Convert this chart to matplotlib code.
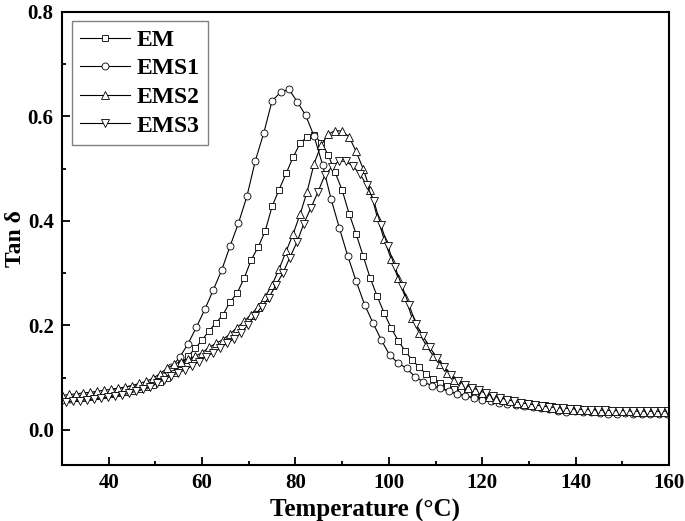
import matplotlib
matplotlib.use("Agg")
import matplotlib.pyplot as plt
from matplotlib.ticker import MultipleLocator, FormatStrFormatter

# temperature (°C) and tan delta for each sample
temp_em = [30.0, 31.5, 33.0, 34.5, 36.0, 37.5, 39.0, 40.5, 42.0, 43.5, 45.0, 46.5,
           48.0, 49.5, 51.0, 52.5, 54.0, 55.5, 57.0, 58.5, 60.0, 61.5, 63.0, 64.5,
           66.0, 67.5, 69.0, 70.5, 72.0, 73.5, 75.0, 76.5, 78.0, 79.5, 81.0, 82.5,
           84.0, 85.5, 87.0, 88.5, 90.0, 91.5, 93.0, 94.5, 96.0, 97.5, 99.0, 100.5,
           102.0, 103.5, 105.0, 106.5, 108.0, 109.5, 111.0, 112.5, 114.0, 115.5,
           117.0, 118.5, 120.0, 121.5, 123.0, 124.5, 126.0, 127.5, 129.0, 130.5,
           132.0, 133.5, 135.0, 136.5, 138.0, 139.5, 141.0, 142.5, 144.0, 145.5,
           147.0, 148.5, 150.0, 151.5, 153.0, 154.5, 156.0, 157.5, 159.0]
tan_em = [0.058, 0.060, 0.061, 0.062, 0.064, 0.065, 0.067, 0.069, 0.071, 0.073,
          0.075, 0.078, 0.082, 0.087, 0.092, 0.100, 0.110, 0.127, 0.141, 0.156,
          0.172, 0.190, 0.205, 0.221, 0.245, 0.262, 0.290, 0.325, 0.350, 0.380,
          0.428, 0.460, 0.491, 0.522, 0.549, 0.561, 0.564, 0.550, 0.527, 0.493,
          0.459, 0.414, 0.375, 0.333, 0.291, 0.256, 0.224, 0.195, 0.171, 0.151,
          0.134, 0.120, 0.107, 0.098, 0.090, 0.084, 0.078, 0.074, 0.070, 0.066,
          0.063, 0.061, 0.059, 0.057, 0.055, 0.053, 0.051, 0.050, 0.048, 0.047,
          0.045, 0.044, 0.043, 0.042, 0.040, 0.039, 0.039, 0.038, 0.037, 0.037,
          0.036, 0.036, 0.035, 0.035, 0.035, 0.034, 0.034]

temp_ems1 = [30.0, 31.8, 33.6, 35.4, 37.2, 39.0, 40.8, 42.6, 44.4, 46.2, 48.0, 49.8,
             51.6, 53.4, 55.2, 57.0, 58.8, 60.6, 62.4, 64.2, 66.0, 67.8, 69.6, 71.4,
             73.2, 75.0, 76.8, 78.6, 80.4, 82.2, 84.0, 85.8, 87.6, 89.4, 91.2, 93.0,
             94.8, 96.6, 98.4, 100.2, 102.0, 103.8, 105.6, 107.4, 109.2, 111.0,
             112.8, 114.6, 116.4, 118.2, 120.0, 121.8, 123.6, 125.4, 127.2, 129.0,
             130.8, 132.6, 134.4, 136.2, 138.0, 139.8, 141.6, 143.4, 145.2, 147.0,
             148.8, 150.6, 152.4, 154.2, 156.0, 157.8, 159.6]
tan_ems1 = [0.057, 0.059, 0.061, 0.063, 0.066, 0.069, 0.072, 0.075, 0.078, 0.082,
            0.087, 0.093, 0.104, 0.120, 0.139, 0.165, 0.197, 0.231, 0.268, 0.306,
            0.352, 0.396, 0.447, 0.515, 0.568, 0.630, 0.646, 0.652, 0.628, 0.602,
            0.562, 0.508, 0.443, 0.387, 0.333, 0.285, 0.240, 0.205, 0.172, 0.143,
            0.128, 0.118, 0.102, 0.092, 0.085, 0.080, 0.074, 0.069, 0.065, 0.061,
            0.058, 0.055, 0.052, 0.050, 0.048, 0.046, 0.044, 0.042, 0.040, 0.036,
            0.035, 0.037, 0.035, 0.034, 0.032, 0.030, 0.031, 0.032, 0.031, 0.031,
            0.031, 0.030, 0.030]

temp_ems2 = list(temp_em)
tan_ems2 = [0.066, 0.068, 0.069, 0.071, 0.072, 0.074, 0.076, 0.078, 0.080, 0.082,
            0.085, 0.089, 0.093, 0.099, 0.108, 0.118, 0.126, 0.131, 0.136, 0.141,
            0.148, 0.158, 0.166, 0.173, 0.184, 0.196, 0.208, 0.221, 0.236, 0.255,
            0.278, 0.308, 0.342, 0.375, 0.413, 0.456, 0.510, 0.545, 0.566, 0.573,
            0.572, 0.561, 0.533, 0.500, 0.460, 0.408, 0.365, 0.327, 0.290, 0.255,
            0.214, 0.186, 0.162, 0.142, 0.126, 0.110, 0.096, 0.087, 0.081, 0.076,
            0.071, 0.064, 0.060, 0.058, 0.055, 0.052, 0.050, 0.048, 0.046, 0.044,
            0.042, 0.041, 0.040, 0.039, 0.038, 0.038, 0.037, 0.037, 0.036, 0.036,
            0.036, 0.036, 0.035, 0.035, 0.035, 0.035, 0.035]

temp_ems3 = [30.8, 32.3, 33.8, 35.3, 36.8, 38.3, 39.8, 41.3, 42.8, 44.3, 45.8, 47.3,
             48.8, 50.3, 51.8, 53.3, 54.8, 56.3, 57.8, 59.3, 60.8, 62.3, 63.8, 65.3,
             66.8, 68.3, 69.8, 71.3, 72.8, 74.3, 75.8, 77.3, 78.8, 80.3, 81.8, 83.3,
             84.8, 86.3, 87.8, 89.3, 90.8, 92.3, 93.8, 95.3, 96.8, 98.3, 99.8, 101.3,
             102.8, 104.3, 105.8, 107.3, 108.8, 110.3, 111.8, 113.3, 114.8, 116.3,
             117.8, 119.3, 120.8, 122.3, 123.8, 125.3, 126.8, 128.3, 129.8, 131.3,
             132.8, 134.3, 135.8, 137.3, 138.8, 140.3, 141.8, 143.3, 144.8, 146.3,
             147.8, 149.3, 150.8, 152.3, 153.8, 155.3, 156.8, 158.3, 159.8]
tan_ems3 = [0.054, 0.055, 0.056, 0.058, 0.059, 0.061, 0.063, 0.065, 0.067, 0.070,
            0.074, 0.078, 0.083, 0.089, 0.096, 0.103, 0.109, 0.115, 0.122, 0.131,
            0.140, 0.147, 0.156, 0.166, 0.174, 0.185, 0.201, 0.219, 0.236, 0.253,
            0.277, 0.300, 0.330, 0.359, 0.395, 0.425, 0.455, 0.488, 0.503, 0.515,
            0.514, 0.505, 0.490, 0.468, 0.438, 0.392, 0.352, 0.312, 0.276, 0.240,
            0.203, 0.180, 0.158, 0.138, 0.121, 0.105, 0.094, 0.087, 0.081, 0.076,
            0.070, 0.065, 0.062, 0.058, 0.055, 0.052, 0.050, 0.048, 0.046, 0.044,
            0.043, 0.042, 0.041, 0.040, 0.039, 0.039, 0.038, 0.038, 0.037, 0.037,
            0.037, 0.036, 0.036, 0.036, 0.036, 0.036, 0.036]

labels = ["EM", "EMS1", "EMS2", "EMS3"]
x_ticks = [40, 60, 80, 100, 120, 140, 160]

plt.rcParams["font.family"] = ["Liberation Serif", "DejaVu Serif"]
plt.rcParams["font.weight"] = "bold"

fig, ax = plt.subplots(figsize=(6.85, 5.21), dpi=100)
fig.subplots_adjust(left=0.0905, right=0.9766, top=0.977, bottom=0.1075)

series = [
    (temp_em, tan_em, "s", 4.2),
    (temp_ems1, tan_ems1, "o", 5.0),
    (temp_ems2, tan_ems2, "^", 5.3),
    (temp_ems3, tan_ems3, "v", 5.3),
]
for (tx, ty, mk, ms), lab in zip(series, labels):
    ax.plot(tx, ty, color="black", lw=0.8, marker=mk, ms=ms,
            mfc="white", mec="black", mew=0.6, label=lab)

ax.set_xlim(30, 160)
ax.set_ylim(-0.067, 0.8)
ax.set_xticks(x_ticks)
ax.xaxis.set_minor_locator(MultipleLocator(10))
ax.yaxis.set_major_locator(MultipleLocator(0.2))
ax.yaxis.set_minor_locator(MultipleLocator(0.1))
ax.yaxis.set_major_formatter(FormatStrFormatter("%.1f"))

ax.tick_params(which="both", direction="in", top=False, right=False, width=1.3)
ax.tick_params(which="major", length=5.5, labelsize=15, pad=6)
ax.tick_params(which="minor", length=3)
for sp in ax.spines.values():
    sp.set_linewidth(1.5)

ax.set_xlabel("Temperature (°C)", fontsize=18, fontweight="bold", labelpad=4)
ax.set_ylabel("Tan δ", fontsize=17, fontweight="bold", labelpad=1)

leg = ax.legend(loc="upper left", bbox_to_anchor=(0.0165, 0.98), borderaxespad=0,
                fontsize=17, handlelength=2.1, handletextpad=0.3,
                labelspacing=0.3, borderpad=0.35, fancybox=False,
                framealpha=1, edgecolor="#808080")
leg.get_frame().set_linewidth(1.0)

fig.savefig("out.png", dpi=100)
